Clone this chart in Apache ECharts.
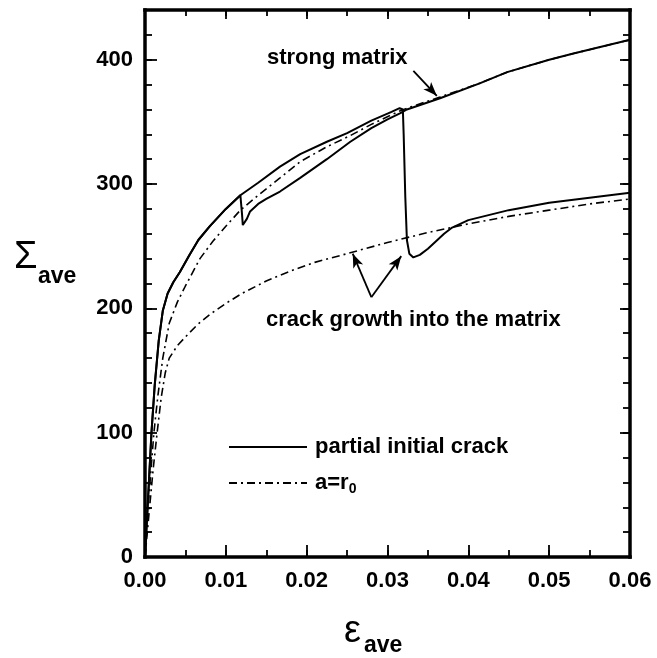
<!DOCTYPE html>
<html>
<head>
<meta charset="utf-8">
<script src="https://cdn.jsdelivr.net/npm/echarts@6/dist/echarts.min.js"></script>
<style>
  html, body { margin: 0; padding: 0; background: #fff; }
  #chart { width: 657px; height: 658px; }
</style>
</head>
<body>
<div id="chart"></div>
<script>
// Average stress vs average strain for the four unit-cell cases.

// Partial initial crack, strong matrix: crack grows at ~0.012, then follows the strong-matrix response
const earlyStrain = [0, 0.0004, 0.0008, 0.0012, 0.0017, 0.0022, 0.0028, 0.0035, 0.0043, 0.0055, 0.0066, 0.008, 0.010, 0.0118,
  0.0119, 0.0120, 0.0121, 0.0123, 0.0126, 0.013, 0.014, 0.015, 0.0167, 0.0192, 0.0225, 0.0254, 0.028, 0.030, 0.0316, 0.0324,
  0.0365, 0.0414, 0.0448, 0.050, 0.053, 0.060];
const earlyStress = [0, 50, 100, 138, 174, 198, 212, 221, 229, 243, 255, 266, 280, 291,
  290, 276, 267, 266, 272, 278, 284, 288, 294, 305, 320, 334, 345, 352, 357, 360,
  369, 381, 390, 400, 405, 416];

// Partial initial crack, weak matrix: crack grows at ~0.032, then follows the weak-matrix response
const lateStrain = [0, 0.0004, 0.0008, 0.0012, 0.0017, 0.0022, 0.0028, 0.0035, 0.0043, 0.0055, 0.0066, 0.008, 0.010, 0.0118,
  0.014, 0.0167, 0.0192, 0.0225, 0.025, 0.028, 0.0305, 0.0315, 0.0319, 0.0320, 0.0322, 0.0324, 0.0327, 0.0332,
  0.034, 0.035, 0.036, 0.037, 0.038, 0.040, 0.045, 0.050, 0.055, 0.060];
const lateStress = [0, 50, 100, 138, 174, 198, 212, 221, 229, 243, 255, 266, 280, 291,
  301, 314, 324, 334, 341, 351, 358, 361, 360, 340, 290, 255, 244, 241,
  243, 248, 254, 260, 265, 271, 279, 285, 289, 293];

// a = r0, strong matrix
const strongStrain = [0, 0.0005, 0.0011, 0.0016, 0.0022, 0.003, 0.004, 0.005, 0.0068, 0.0084, 0.010, 0.0118, 0.014, 0.0167,
  0.0192, 0.0225, 0.0254, 0.028, 0.0316, 0.0324, 0.0365, 0.0414, 0.0448, 0.050, 0.053, 0.060];
const strongStress = [0, 50, 100, 130, 160, 188, 205, 218, 240, 254, 266, 279, 291, 305,
  318, 330, 339, 348, 359, 361, 370, 381, 390, 400, 405, 416];

// a = r0, weak matrix
const weakStrain = [0, 0.0005, 0.001, 0.0015, 0.002, 0.0025, 0.003, 0.004, 0.005, 0.0065, 0.008, 0.010, 0.012, 0.015,
  0.018, 0.021, 0.025, 0.030, 0.035, 0.040, 0.045, 0.050, 0.055, 0.060];
const weakStress = [0, 35, 70, 100, 128, 148, 160, 170, 177, 187, 195, 204, 212, 222,
  230, 237, 244, 253, 261, 268, 274, 279, 284, 288];

const xTickLabels = ['0.00', '0.01', '0.02', '0.03', '0.04', '0.05', '0.06'];
const yTickLabels = ['0', '100', '200', '300', '400'];

// annotation arrows: [start, tip] in (strain, stress)
const strongArrow = [[0.0332, 391], [0.0361, 371]];
const growthArrows = [
  [[0.0280, 209], [0.0257, 244]],
  [[0.0280, 209], [0.0317, 242]]
];

const FONT = 'Liberation Sans';
const zip = (a, b) => a.map((v, i) => [v, b[i]]);
const DASHDOT = [8, 4, 2, 4];

const xLabel = v => {
  const k = Math.round(v * 100);
  return Math.abs(v * 100 - k) < 1e-6 && xTickLabels[k] !== undefined ? xTickLabels[k] : '';
};
const yLabel = v => {
  const k = Math.round(v / 100);
  return Math.abs(v - k * 100) < 1e-6 && yTickLabels[k] !== undefined ? yTickLabels[k] : '';
};

const frameLine = { show: true, onZero: false, lineStyle: { color: '#000', width: 3.5, cap: 'square' } };
const noLine = { show: false, onZero: false };
const tick = len => ({ show: true, inside: true, length: len, lineStyle: { color: '#000', width: 1.8 } });
const noLabel = { show: false };
const labelStyle = { color: '#000', fontFamily: FONT, fontWeight: 'bold', fontSize: 22 };

const xBase = { type: 'value', min: 0, max: 0.06, splitLine: { show: false } };
const yBase = { type: 'value', min: 0, max: 440, splitLine: { show: false } };
const box = { left: 145, right: 27, top: 10, bottom: 101, show: false };

const chart = echarts.init(document.getElementById('chart'), null, { renderer: 'canvas' });

const option = {
  animation: false,
  backgroundColor: '#fff',
  // second grid shares the same box and only carries the longer major ticks
  grid: [Object.assign({}, box), Object.assign({}, box)],
  xAxis: [
    Object.assign({}, xBase, {
      gridIndex: 0, position: 'bottom', interval: 0.005, axisLine: frameLine, axisTick: tick(7),
      axisLabel: Object.assign({ show: true, formatter: xLabel, margin: 13 }, labelStyle)
    }),
    Object.assign({}, xBase, { gridIndex: 0, position: 'top', interval: 0.005, axisLine: frameLine, axisTick: tick(6), axisLabel: noLabel }),
    Object.assign({}, xBase, { gridIndex: 1, position: 'bottom', interval: 0.01, axisLine: noLine, axisTick: tick(12), axisLabel: noLabel }),
    Object.assign({}, xBase, { gridIndex: 1, position: 'top', interval: 0.01, axisLine: noLine, axisTick: tick(9), axisLabel: noLabel })
  ],
  yAxis: [
    Object.assign({}, yBase, {
      gridIndex: 0, position: 'left', interval: 20, axisLine: frameLine, axisTick: tick(7),
      axisLabel: Object.assign({ show: true, formatter: yLabel, margin: 12 }, labelStyle)
    }),
    Object.assign({}, yBase, { gridIndex: 0, position: 'right', interval: 20, axisLine: frameLine, axisTick: tick(7), axisLabel: noLabel }),
    Object.assign({}, yBase, { gridIndex: 1, position: 'left', interval: 100, axisLine: noLine, axisTick: tick(12), axisLabel: noLabel }),
    Object.assign({}, yBase, { gridIndex: 1, position: 'right', interval: 100, axisLine: noLine, axisTick: tick(10), axisLabel: noLabel })
  ],
  legend: {
    orient: 'vertical',
    left: 223,
    top: 431,
    itemWidth: 78,
    itemHeight: 22,
    itemGap: 14,
    itemStyle: { opacity: 0 },
    data: ['partial initial crack', 'a=r0'],
    formatter: name => (name === 'a=r0' ? 'a=r{sub|0}' : name),
    textStyle: {
      color: '#000', fontFamily: FONT, fontWeight: 'bold', fontSize: 22, padding: [0, 0, 0, 3],
      rich: { sub: { fontFamily: FONT, fontWeight: 'bold', fontSize: 14, padding: [12, 0, 0, 0], color: '#000' } }
    }
  },
  series: [
    {
      name: 'partial initial crack', type: 'line', data: zip(earlyStrain, earlyStress),
      symbol: 'none', itemStyle: { color: '#000' }, lineStyle: { color: '#000', width: 2 }, z: 3
    },
    {
      name: 'partial initial crack', type: 'line', data: zip(lateStrain, lateStress),
      symbol: 'none', itemStyle: { color: '#000' }, lineStyle: { color: '#000', width: 2 }, z: 3
    },
    {
      name: 'a=r0', type: 'line', data: zip(strongStrain, strongStress),
      symbol: 'none', itemStyle: { color: '#000' }, lineStyle: { color: '#000', width: 1.6, type: DASHDOT }, z: 2
    },
    {
      name: 'a=r0', type: 'line', data: zip(weakStrain, weakStress),
      symbol: 'none', itemStyle: { color: '#000' }, lineStyle: { color: '#000', width: 1.6, type: DASHDOT }, z: 2
    },
    {
      name: 'annotations', type: 'line', data: [], symbol: 'none',
      markLine: {
        silent: true,
        symbol: ['none', 'arrow'],
        symbolSize: [8, 14],
        label: { show: false },
        lineStyle: { color: '#000', width: 1.8, type: 'solid' },
        data: [
          [{ coord: strongArrow[0] }, { coord: strongArrow[1] }],
          [{ coord: growthArrows[0][0] }, { coord: growthArrows[0][1] }],
          [{ coord: growthArrows[1][0] }, { coord: growthArrows[1][1] }]
        ]
      }
    }
  ],
  graphic: [
    { type: 'text', left: 267, top: 47, style: { text: 'strong matrix', font: 'bold 22px "Liberation Sans"', fill: '#000' } },
    { type: 'text', left: 266, top: 309, style: { text: 'crack growth into the matrix', font: 'bold 22px "Liberation Sans"', fill: '#000' } },
    { type: 'text', left: 14, top: 239, style: { text: 'Σ', font: '38px "Liberation Sans"', fill: '#000' } },
    { type: 'text', left: 38, top: 265, style: { text: 'ave', font: 'bold 23px "Liberation Sans"', fill: '#000' } },
    { type: 'text', left: 344, top: 613, style: { text: 'ε', font: '38px "Liberation Sans"', fill: '#000' } },
    { type: 'text', left: 364, top: 634, style: { text: 'ave', font: 'bold 23px "Liberation Sans"', fill: '#000' } }
  ]
};

chart.setOption(option);
</script>
</body>
</html>
